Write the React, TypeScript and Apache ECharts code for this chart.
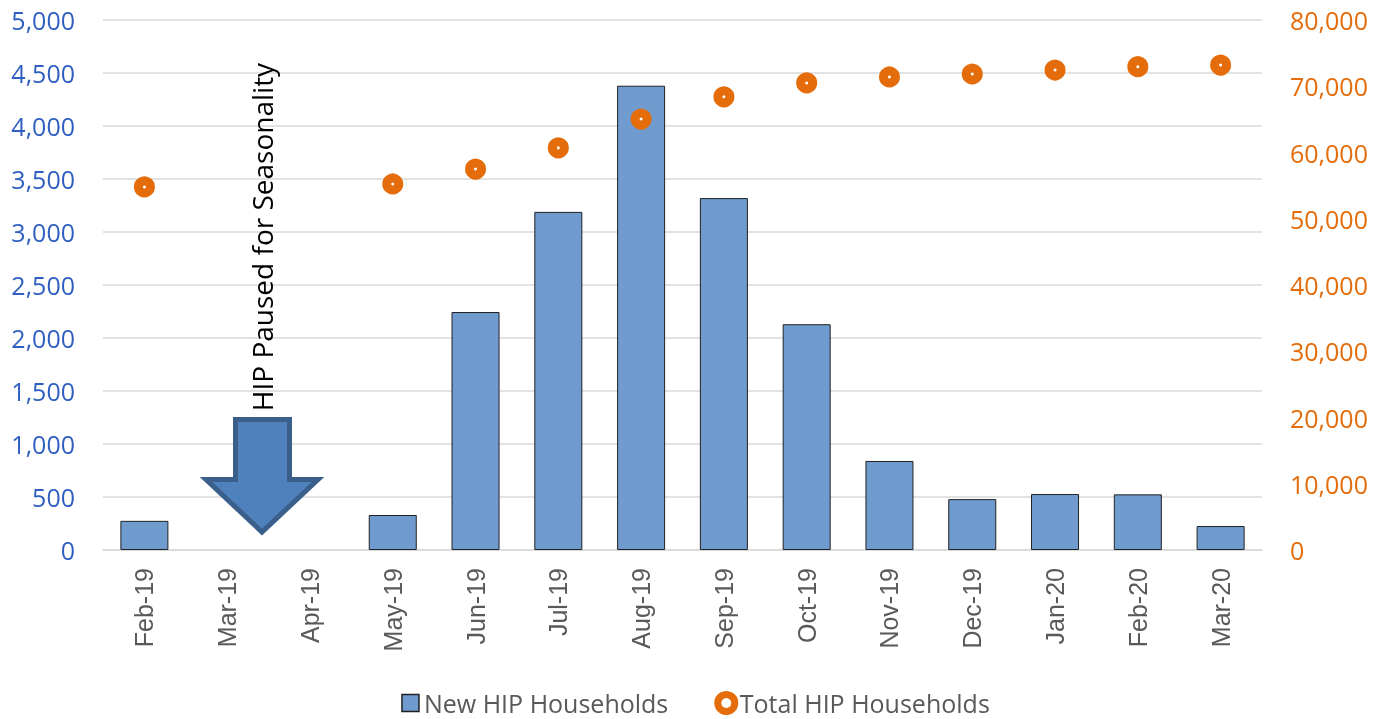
import React, { useEffect, useRef } from "react";
import * as echarts from "echarts";

const categories = ["Feb-19", "Mar-19", "Apr-19", "May-19", "Jun-19", "Jul-19", "Aug-19", "Sep-19", "Oct-19", "Nov-19", "Dec-19", "Jan-20", "Feb-20", "Mar-20"];
const newHouseholds: (number | null)[] = [275, null, null, 330, 2245, 3190, 4380, 3320, 2130, 840, 480, 528, 525, 226];
const totalHouseholds: (number | null)[] = [54800, null, null, 55250, 57500, 60700, 65050, 68400, 70500, 71400, 71850, 72450, 72950, 73200];
const annotationText = "HIP Paused for Seasonality";

const BLUE_LABEL = "#2F5FC0";
const ORANGE = "#E46C0A";
const BAR = "#6F9BCE";

export default function App() {
  const ref = useRef<HTMLDivElement>(null);
  useEffect(() => {
    if (!ref.current) return;
    const chart = echarts.init(ref.current, null, { renderer: "svg" });
    chart.setOption({
      animation: false,
      grid: { left: 103, right: 129, top: 20, bottom: 169, containLabel: false },
      legend: {
        top: 685,
        left: "center",
        itemGap: 46,
        itemWidth: 17,
        itemHeight: 17,
        textStyle: { fontFamily: "Open Sans", fontSize: 25, color: "#595959", lineHeight: 26 },
        data: [
          { name: "New HIP Households", icon: "rect", itemStyle: { color: BAR, borderColor: "#222", borderWidth: 1.5 } },
          { name: "Total HIP Households", icon: "circle", itemStyle: { color: "#fff", borderColor: ORANGE, borderWidth: 7 } },
        ],
      },
      xAxis: {
        type: "category",
        data: categories,
        boundaryGap: true,
        axisTick: { show: false },
        axisLine: { lineStyle: { color: "#D9D9D9", width: 1.5 } },
        axisLabel: {
          rotate: 90,
          margin: 18,
          interval: 0,
          color: "#595959",
          fontFamily: "Liberation Sans",
          fontSize: 25,
        },
      },
      yAxis: [
        {
          type: "value",
          min: 0,
          max: 5000,
          interval: 500,
          axisLine: { show: false },
          axisTick: { show: false },
          splitLine: { lineStyle: { color: "#D9D9D9", width: 1.5 } },
          axisLabel: {
            margin: 28,
            color: BLUE_LABEL,
            fontFamily: "Open Sans",
            fontSize: 25,
            formatter: (v: number) => v.toLocaleString("en-US"),
          },
        },
        {
          type: "value",
          min: 0,
          max: 80000,
          interval: 10000,
          position: "right",
          axisLine: { show: false },
          axisTick: { show: false },
          splitLine: { show: false },
          axisLabel: {
            margin: 28,
            color: ORANGE,
            fontFamily: "Open Sans",
            fontSize: 25,
            formatter: (v: number) => v.toLocaleString("en-US"),
          },
        },
      ],
      series: [
        {
          name: "New HIP Households",
          type: "bar",
          yAxisIndex: 0,
          barWidth: "58%",
          data: newHouseholds,
          itemStyle: { color: BAR, borderColor: "#222", borderWidth: 1 },
        },
        {
          name: "Total HIP Households",
          type: "scatter",
          yAxisIndex: 1,
          symbol: "circle",
          symbolSize: 12,
          data: totalHouseholds,
          itemStyle: { color: "#fff", borderColor: ORANGE, borderWidth: 9, opacity: 1 },
          z: 5,
        },
      ],
      graphic: [
        {
          type: "polygon",
          z: 10,
          shape: {
            points: [
              [235.5, 419.5],
              [289.5, 419.5],
              [289.5, 479.5],
              [318, 479.5],
              [262, 532],
              [206, 479.5],
              [235.5, 479.5],
            ],
          },
          style: { fill: "#4F81BD", stroke: "#3A5F8B", lineWidth: 5, lineJoin: "miter" },
        },
        {
          type: "text",
          z: 10,
          x: 262,
          y: 237,
          rotation: Math.PI / 2,
          style: {
            text: annotationText,
            fontFamily: "Open Sans",
            fontSize: 28,
            fill: "#000",
            align: "center",
            verticalAlign: "middle",
          },
        },
      ],
    });
    return () => chart.dispose();
  }, []);
  return <div ref={ref} style={{ position: "fixed", left: 0, top: 0, width: 1391, height: 719 }} />;
}
